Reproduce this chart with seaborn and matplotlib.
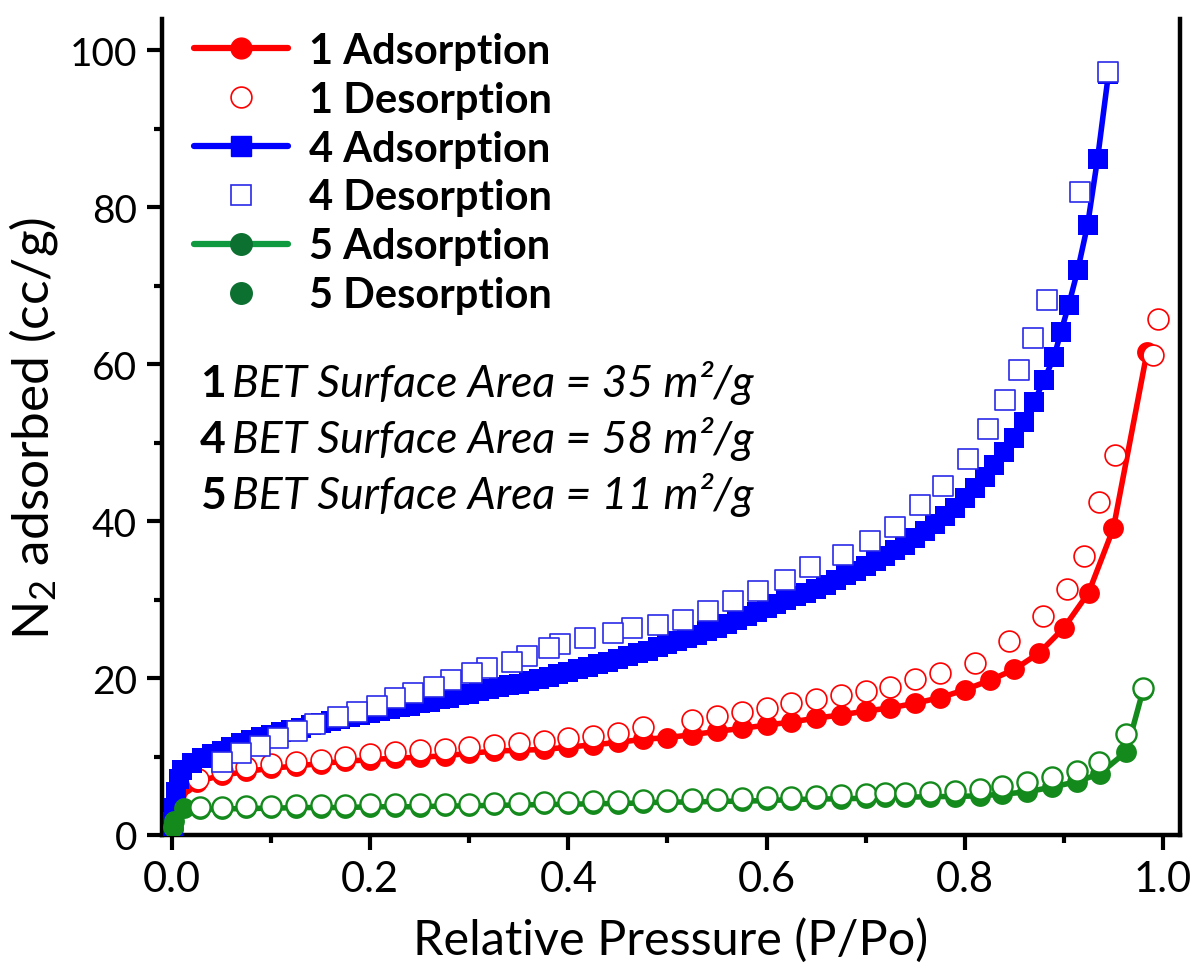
import matplotlib
matplotlib.use("Agg")
import matplotlib.pyplot as plt
import seaborn as sns
import pandas as pd
from matplotlib.lines import Line2D
from matplotlib.ticker import AutoMinorLocator
from matplotlib import font_manager as fm

# ---------------- data ----------------
s1_ads_x = [0.0005, 0.001, 0.002, 0.004, 0.007, 0.012, 0.025, 0.05, 0.075, 0.10, 0.125, 0.15, 0.175, 0.20,
            0.225, 0.25, 0.275, 0.30, 0.325, 0.35, 0.375, 0.40, 0.425, 0.45, 0.475, 0.50, 0.525, 0.55,
            0.575, 0.60, 0.625, 0.65, 0.675, 0.70, 0.725, 0.75, 0.775, 0.80, 0.825, 0.85, 0.875, 0.90,
            0.925, 0.95, 0.984]
s1_ads_y = [0.8, 2.5, 4.0, 5.2, 6.0, 6.5, 6.8, 7.6, 8.1, 8.5, 8.8, 9.1, 9.4, 9.6,
            9.8, 9.9, 10.1, 10.4, 10.7, 10.8, 10.9, 11.2, 11.5, 11.8, 12.2, 12.4, 12.8, 13.2,
            13.6, 14.0, 14.4, 14.9, 15.3, 15.8, 16.2, 16.8, 17.5, 18.5, 19.7, 21.1, 23.2, 26.4,
            30.9, 39.1, 61.6]

s1_des_x = [0.995, 0.99, 0.952, 0.935, 0.92, 0.903, 0.879, 0.845, 0.81, 0.775, 0.75, 0.725, 0.70,
            0.675, 0.65, 0.625, 0.60, 0.575, 0.55, 0.525, 0.475, 0.45, 0.425, 0.40, 0.375, 0.35,
            0.325, 0.30, 0.275, 0.25, 0.225, 0.20, 0.175, 0.15, 0.125, 0.10, 0.075, 0.05, 0.026]
s1_des_y = [65.8, 61.2, 48.4, 42.4, 35.6, 31.3, 27.9, 24.7, 21.9, 20.7, 19.9, 18.9, 18.4,
            17.9, 17.3, 16.8, 16.2, 15.7, 15.2, 14.7, 13.8, 13.0, 12.6, 12.3, 12.0, 11.7,
            11.5, 11.2, 11.0, 10.8, 10.6, 10.3, 9.9, 9.6, 9.3, 9.1, 8.7, 8.1, 7.2]

s4_ads_x = [0.0005, 0.001, 0.002, 0.004, 0.007, 0.01,
            0.02, 0.03, 0.04, 0.05, 0.06, 0.07, 0.08, 0.09, 0.10, 0.11, 0.12, 0.13, 0.14, 0.15,
            0.16, 0.17, 0.18, 0.19, 0.20, 0.21, 0.22, 0.23, 0.24, 0.25, 0.26, 0.27, 0.28, 0.29,
            0.30, 0.31, 0.32, 0.33, 0.34, 0.35, 0.36, 0.37, 0.38, 0.39, 0.40, 0.41, 0.42, 0.43,
            0.44, 0.45, 0.46, 0.47, 0.48, 0.49, 0.50, 0.51, 0.52, 0.53, 0.54, 0.55, 0.56, 0.57,
            0.58, 0.59, 0.60, 0.61, 0.62, 0.63, 0.64, 0.65, 0.66, 0.67, 0.68, 0.69, 0.70, 0.71,
            0.72, 0.73, 0.74, 0.75, 0.76, 0.77, 0.78, 0.79, 0.80, 0.81, 0.82, 0.83, 0.84, 0.85,
            0.86, 0.87, 0.88, 0.89, 0.897, 0.905, 0.914, 0.924, 0.934, 0.945]
s4_ads_y = [0.5, 1.5, 3.5, 5.5, 7.2, 8.3,
            9.2, 9.8, 10.3, 10.7, 11.2, 11.7, 12.1, 12.5, 12.8, 13.1, 13.4, 13.7, 14.0, 14.3,
            14.5, 14.8, 15.0, 15.3, 15.5, 15.8, 16.0, 16.3, 16.5, 16.8, 17.0, 17.3, 17.5, 17.8,
            18.0, 18.3, 18.6, 18.8, 19.1, 19.3, 19.6, 19.9, 20.2, 20.5, 20.8, 21.1, 21.4, 21.8,
            22.1, 22.4, 22.8, 23.2, 23.5, 23.9, 24.3, 24.7, 25.1, 25.5, 26.0, 26.4, 26.9, 27.4,
            27.9, 28.4, 28.9, 29.4, 29.9, 30.4, 30.9, 31.4, 31.9, 32.5, 33.1, 33.7, 34.3, 34.9,
            35.6, 36.3, 37.0, 37.8, 38.7, 39.6, 40.6, 41.7, 42.9, 44.2, 45.6, 47.1, 48.8, 50.6,
            52.6, 55.2, 58.0, 60.9, 64.1, 67.6, 72.0, 77.8, 86.2, 97.0]

s4_des_x = [0.945, 0.916, 0.883, 0.869, 0.855, 0.841, 0.823, 0.803, 0.778, 0.755, 0.73, 0.704,
            0.677, 0.644, 0.619, 0.591, 0.566, 0.541, 0.516, 0.49, 0.464, 0.445, 0.417, 0.392,
            0.38, 0.358, 0.343, 0.318, 0.303, 0.282, 0.264, 0.243, 0.225, 0.207, 0.187, 0.168,
            0.144, 0.126, 0.107, 0.089, 0.07, 0.05]
s4_des_y = [97.2, 81.9, 68.2, 63.4, 59.3, 55.4, 51.7, 47.9, 44.5, 42.0, 39.3, 37.5,
            35.7, 34.2, 32.5, 31.1, 29.8, 28.6, 27.4, 26.8, 26.4, 25.7, 25.1, 24.3,
            23.8, 22.8, 22.1, 21.3, 20.6, 19.7, 18.9, 18.1, 17.4, 16.5, 15.7, 15.1,
            14.2, 13.2, 12.3, 11.3, 10.4, 9.3]

s5_ads_x = [0.0005, 0.002, 0.012, 0.028, 0.05, 0.075, 0.10, 0.125, 0.15, 0.175, 0.20, 0.225, 0.25,
            0.275, 0.30, 0.325, 0.35, 0.375, 0.40, 0.425, 0.45, 0.475, 0.50, 0.525, 0.55, 0.575,
            0.60, 0.625, 0.65, 0.675, 0.70, 0.72, 0.74, 0.765, 0.79, 0.815, 0.838, 0.863, 0.888,
            0.913, 0.936, 0.963, 0.98]
s5_ads_y = [1.0, 1.8, 3.4, 3.3, 3.3, 3.4, 3.4, 3.5, 3.5, 3.5, 3.6, 3.6, 3.6,
            3.7, 3.7, 3.8, 3.8, 3.9, 3.9, 4.0, 4.0, 4.1, 4.2, 4.2, 4.3, 4.3,
            4.4, 4.5, 4.6, 4.6, 4.7, 4.8, 4.8, 4.9, 4.9, 5.0, 5.2, 5.5, 6.1,
            6.8, 7.8, 10.6, 18.5]

s5_des_x = [0.028, 0.05, 0.075, 0.10, 0.125, 0.15, 0.175, 0.20, 0.225, 0.25, 0.275, 0.30, 0.325,
            0.35, 0.375, 0.40, 0.425, 0.45, 0.475, 0.50, 0.525, 0.55, 0.575, 0.60, 0.625, 0.65,
            0.675, 0.70, 0.72, 0.74, 0.765, 0.79, 0.815, 0.838, 0.863, 0.888, 0.913, 0.935,
            0.963, 0.98]
s5_des_y = [3.6, 3.6, 3.7, 3.7, 3.8, 3.8, 3.8, 3.9, 3.9, 3.9, 4.0, 4.0, 4.1,
            4.1, 4.2, 4.2, 4.3, 4.3, 4.4, 4.5, 4.6, 4.6, 4.7, 4.8, 4.9, 5.0,
            5.1, 5.2, 5.3, 5.4, 5.5, 5.6, 5.9, 6.3, 6.8, 7.4, 8.2, 9.3,
            12.9, 18.7]

x_ticks = [0.0, 0.2, 0.4, 0.6, 0.8, 1.0]
x_tick_labels = ["0.0", "0.2", "0.4", "0.6", "0.8", "1.0"]
y_ticks = [0, 20, 40, 60, 80, 100]
y_tick_labels = ["0", "20", "40", "60", "80", "100"]

legend_labels = ["1 Adsorption", "1 Desorption", "4 Adsorption", "4 Desorption",
                 "5 Adsorption", "5 Desorption"]
bet_ids = ["1", "4", "5"]
bet_values = [35, 58, 11]

# ---------------- style ----------------
sns.set_theme(style="ticks")
names = {f.name for f in fm.fontManager.ttflist}
MAIN = "Lato" if "Lato" in names else "DejaVu Sans"
NARROW = "Liberation Sans Narrow" if "Liberation Sans Narrow" in names else MAIN
plt.rcParams["font.family"] = [MAIN, "DejaVu Sans"]
plt.rcParams["mathtext.fontset"] = "custom"
plt.rcParams["mathtext.rm"] = MAIN
plt.rcParams["mathtext.it"] = MAIN + ":italic"
plt.rcParams["mathtext.bf"] = MAIN + ":bold"
for key in ["text.color", "axes.labelcolor", "xtick.color", "ytick.color", "axes.edgecolor"]:
    plt.rcParams[key] = "black"

RED = "#ff0000"
BLUE = "#0000ff"
GREEN_MK = "#0b7030"
GREEN_OPEN = "#148a1c"

fig = plt.figure(figsize=(11.99, 9.70), dpi=100)
ax = fig.add_axes([162 / 1199, (970 - 836) / 970, (1180 - 162) / 1199, (836 - 20) / 970])

# ---------------- series ----------------
df1a = pd.DataFrame({"x": s1_ads_x, "y": s1_ads_y})
df1d = pd.DataFrame({"x": s1_des_x, "y": s1_des_y})
df4a = pd.DataFrame({"x": s4_ads_x, "y": s4_ads_y})
df4d = pd.DataFrame({"x": s4_des_x, "y": s4_des_y})
df5a = pd.DataFrame({"x": s5_ads_x, "y": s5_ads_y})
df5d = pd.DataFrame({"x": s5_des_x, "y": s5_des_y})

sns.lineplot(data=df1a, x="x", y="y", ax=ax, color=RED, lw=4.0, marker="o", markersize=15,
             markeredgewidth=0, sort=False, estimator=None, zorder=3)
sns.scatterplot(data=df1d, x="x", y="y", ax=ax, marker="o", s=15 ** 2, color="white",
                edgecolor=RED, linewidth=1.2, zorder=4)
sns.lineplot(data=df4a, x="x", y="y", ax=ax, color=BLUE, lw=4.0, marker="s", markersize=14,
             markeredgewidth=0, sort=False, estimator=None, zorder=5)
sns.scatterplot(data=df4d, x="x", y="y", ax=ax, marker="s", s=14 ** 2, color="white",
                edgecolor="#2a2ae8", linewidth=1.2, zorder=6)
sns.lineplot(data=df5a, x="x", y="y", ax=ax, color=GREEN_OPEN, lw=4.0, marker="o", markersize=15,
             markerfacecolor=GREEN_OPEN, markeredgewidth=0, sort=False, estimator=None, zorder=7)
sns.scatterplot(data=df5d, x="x", y="y", ax=ax, marker="o", s=14.5 ** 2, color="white",
                edgecolor=GREEN_OPEN, linewidth=1.7, zorder=8)

# ---------------- axes ----------------
ax.set_xlim(-0.0101, 1.0172)
ax.set_ylim(0, 104)
ax.set_xticks(x_ticks)
ax.set_xticklabels(x_tick_labels, fontsize=30, family=NARROW)
ax.set_yticks(y_ticks)
ax.set_yticklabels(y_tick_labels, fontsize=28, family=MAIN)
ax.xaxis.set_minor_locator(AutoMinorLocator(2))
ax.yaxis.set_minor_locator(AutoMinorLocator(2))
ax.tick_params(which="major", direction="out", length=11, width=3, color="black", pad=7,
               top=False, right=False)
ax.tick_params(which="minor", direction="out", length=6, width=3, color="black",
               top=False, right=False)
for side in ["left", "bottom", "right"]:
    ax.spines[side].set_linewidth(3.2)
    ax.spines[side].set_color("black")
ax.spines["top"].set_visible(False)

ax.set_xlabel("Relative Pressure (P/Po)", fontsize=35, family=NARROW, labelpad=14)
ax.set_ylabel(r"N$_\mathregular{2}$ adsorbed (cc/g)", fontsize=37, family=MAIN, labelpad=7)

# ---------------- BET annotations ----------------
bet_y = [56.0, 48.8, 41.7]
for sid, val, yy in zip(bet_ids, bet_values, bet_y):
    ax.text(0.028, yy, sid, fontsize=32, fontweight="bold", family=MAIN, va="baseline")
    ax.text(0.061, yy, f"BET Surface Area = {val} m²/g", fontsize=32, style="italic",
            family=MAIN, va="baseline")

# ---------------- legend ----------------
handles = [
    Line2D([], [], color=RED, lw=4.5, marker="o", ms=15, mec=RED, mfc=RED),
    Line2D([], [], ls="none", marker="o", ms=15, mfc="white", mec=RED, mew=1.2),
    Line2D([], [], color=BLUE, lw=4.5, marker="s", ms=14.5, mec=BLUE, mfc=BLUE),
    Line2D([], [], ls="none", marker="s", ms=14.5, mfc="white", mec="#2a2ae8", mew=1.2),
    Line2D([], [], color="#0f9a40", lw=4.5, marker="o", ms=15.5, mec=GREEN_MK, mfc=GREEN_MK),
    Line2D([], [], ls="none", marker="o", ms=15.5, mfc=GREEN_MK, mec=GREEN_MK),
]
leg = ax.legend(handles, legend_labels, loc="upper left",
                bbox_to_anchor=(194 / 1199, 1 - 33 / 970), bbox_transform=fig.transFigure,
                frameon=False, prop={"family": MAIN, "weight": "bold", "size": 30},
                handlelength=2.25, handletextpad=0.5, labelspacing=0.26,
                borderpad=0, borderaxespad=0)

fig.savefig("out.png", dpi=100)
